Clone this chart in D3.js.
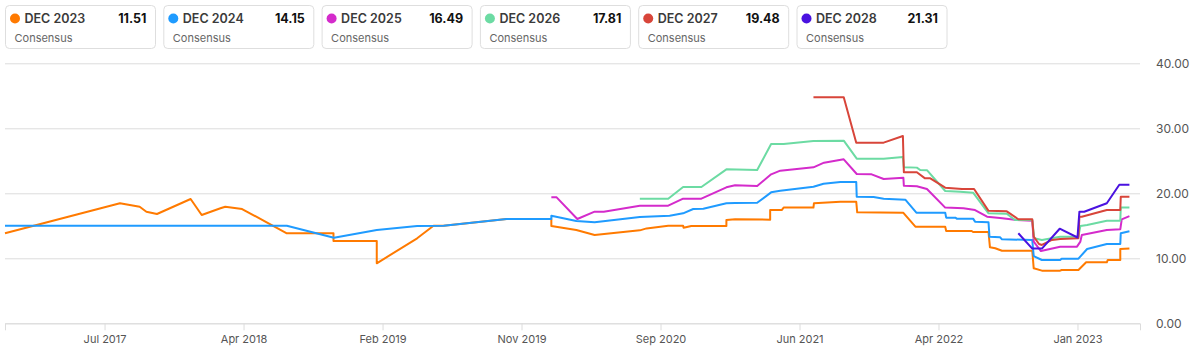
<!DOCTYPE html>
<html>
<head>
<meta charset="utf-8">
<script src="https://cdn.jsdelivr.net/npm/d3@7"></script>
<style>
  body { margin: 0; background: #fff; font-family: Inter, "Noto Sans", sans-serif; }
  svg { display: block; }
</style>
</head>
<body>
<svg id="chart" width="1191" height="349"></svg>
<script>
// Consensus estimate history per fiscal period
const seriesNames = ["DEC 2023", "DEC 2024", "DEC 2025", "DEC 2026", "DEC 2027", "DEC 2028"];
const seriesColors = ["#ff7a00", "#1f9bff", "#d42bcb", "#6cdba3", "#d8453a", "#4a12e0"];
const legendSubtitle = "Consensus";

const dec2023 = [
  ["2016-12-10", 13.85], ["2017-08-06", 18.46], ["2017-09-16", 17.94], ["2017-09-30", 17.17],
  ["2017-10-22", 16.82], ["2017-12-31", 19.12], ["2018-01-23", 16.66], ["2018-03-03", 17.69],
  ["2018-03-13", 17.94], ["2018-04-17", 17.58], ["2018-06-11", 15.38], ["2018-07-19", 13.85],
  ["2018-10-24", 13.85], ["2018-10-24", 12.66], ["2019-01-22", 12.66], ["2019-01-22", 9.23],
  ["2019-04-16", 13.08], ["2019-05-20", 15.0], ["2019-06-10", 15.0], ["2019-10-19", 16.05],
  ["2020-01-20", 16.05], ["2020-01-20", 14.97], ["2020-03-12", 14.35], ["2020-04-19", 13.58],
  ["2020-07-22", 14.3], ["2020-08-05", 14.6], ["2020-09-19", 15.0], ["2020-10-20", 15.0],
  ["2020-10-21", 14.7], ["2020-11-06", 14.97], ["2021-01-18", 14.97], ["2021-01-18", 15.89],
  ["2021-02-05", 16.0], ["2021-04-19", 15.94], ["2021-04-19", 17.43], ["2021-05-13", 17.43],
  ["2021-05-17", 17.8], ["2021-07-18", 17.8], ["2021-07-19", 18.46], ["2021-09-12", 18.7],
  ["2021-10-15", 18.7], ["2021-10-17", 17.07], ["2022-01-21", 17.0], ["2022-02-15", 14.86],
  ["2022-04-18", 14.86], ["2022-04-20", 14.2], ["2022-06-12", 14.2], ["2022-06-15", 14.05],
  ["2022-07-17", 14.05], ["2022-07-20", 11.69], ["2022-07-31", 11.54], ["2022-08-14", 11.17],
  ["2022-10-16", 11.17], ["2022-10-19", 8.46], ["2022-11-05", 8.1], ["2022-12-13", 8.1],
  ["2022-12-16", 8.2], ["2023-01-20", 8.2], ["2023-02-05", 9.38], ["2023-03-20", 9.38],
  ["2023-03-22", 9.74], ["2023-04-17", 9.74], ["2023-04-17", 11.43], ["2023-05-06", 11.51]
];

const dec2024 = [
  ["2016-12-10", 15.0], ["2018-07-19", 15.0], ["2018-10-25", 13.17], ["2019-01-22", 14.35],
  ["2019-04-16", 14.97], ["2019-06-10", 15.0], ["2019-10-19", 16.05], ["2020-01-20", 16.05],
  ["2020-01-20", 16.55], ["2020-03-12", 15.74], ["2020-04-19", 15.54], ["2020-07-22", 16.35],
  ["2020-09-22", 16.55], ["2020-10-20", 16.92], ["2020-11-10", 17.58], ["2020-12-01", 17.63],
  ["2021-01-18", 18.46], ["2021-02-05", 18.5], ["2021-03-23", 18.55], ["2021-04-21", 20.15],
  ["2021-05-10", 20.4], ["2021-07-18", 21.0], ["2021-08-08", 21.48], ["2021-09-12", 21.74],
  ["2021-10-15", 21.74], ["2021-10-16", 19.48], ["2021-11-20", 19.43], ["2021-12-11", 19.17],
  ["2022-01-25", 19.02], ["2022-02-17", 17.02], ["2022-04-18", 17.02], ["2022-04-20", 16.25],
  ["2022-05-09", 16.25], ["2022-05-12", 16.1], ["2022-06-15", 16.1], ["2022-06-19", 15.64],
  ["2022-07-17", 15.54], ["2022-07-19", 13.33], ["2022-08-10", 13.23], ["2022-08-14", 12.92],
  ["2022-10-16", 12.82], ["2022-10-19", 10.35], ["2022-11-05", 9.74], ["2022-12-13", 9.74],
  ["2022-12-16", 9.94], ["2023-01-20", 9.94], ["2023-02-07", 11.43], ["2023-03-20", 12.2],
  ["2023-04-17", 12.2], ["2023-04-18", 13.85], ["2023-05-06", 14.15]
];

const dec2025 = [
  ["2020-01-20", 19.38], ["2020-01-31", 19.38], ["2020-03-14", 16.05], ["2020-04-19", 17.17],
  ["2020-05-08", 17.17], ["2020-07-22", 18.1], ["2020-09-19", 18.1], ["2020-10-20", 19.17],
  ["2020-11-27", 19.17], ["2021-01-18", 20.92], ["2021-02-05", 21.23], ["2021-03-23", 21.12],
  ["2021-04-21", 22.92], ["2021-05-10", 23.48], ["2021-07-18", 24.0], ["2021-08-09", 24.71],
  ["2021-09-19", 25.23], ["2021-10-16", 22.97], ["2021-11-16", 22.92], ["2021-12-11", 22.2],
  ["2022-01-21", 22.4], ["2022-01-22", 21.17], ["2022-02-18", 21.08], ["2022-03-11", 20.66],
  ["2022-04-18", 17.8], ["2022-05-26", 17.7], ["2022-06-19", 17.43], ["2022-07-14", 16.4],
  ["2022-08-10", 16.2], ["2022-09-14", 15.9], ["2022-10-16", 15.79], ["2022-10-19", 12.56],
  ["2022-11-03", 11.12], ["2022-12-13", 11.79], ["2023-01-17", 11.79], ["2023-01-24", 12.56],
  ["2023-01-27", 13.58], ["2023-03-20", 14.35], ["2023-04-17", 14.46], ["2023-04-20", 16.0],
  ["2023-05-06", 16.49]
];

const dec2026 = [
  ["2020-07-22", 19.17], ["2020-09-19", 19.17], ["2020-10-20", 20.97], ["2020-11-27", 20.97],
  ["2021-01-18", 23.69], ["2021-03-23", 23.58], ["2021-04-21", 27.58], ["2021-05-17", 27.58],
  ["2021-07-18", 28.05], ["2021-09-19", 28.1], ["2021-10-16", 25.33], ["2021-12-11", 25.33],
  ["2022-01-20", 25.58], ["2022-01-22", 24.0], ["2022-02-18", 23.95], ["2022-02-25", 23.58],
  ["2022-03-11", 23.56], ["2022-04-18", 20.35], ["2022-05-19", 20.25], ["2022-06-15", 20.1],
  ["2022-07-17", 16.92], ["2022-08-24", 16.85], ["2022-09-10", 15.9], ["2022-10-16", 15.9],
  ["2022-10-20", 13.08], ["2022-11-05", 12.82], ["2022-12-13", 13.33], ["2023-01-20", 13.33],
  ["2023-01-24", 14.97], ["2023-02-07", 15.12], ["2023-03-20", 15.79], ["2023-04-17", 15.79],
  ["2023-04-18", 17.81], ["2023-05-06", 17.81]
];

const dec2027 = [
  ["2021-07-18", 34.77], ["2021-09-19", 34.77], ["2021-10-15", 27.79], ["2021-12-11", 27.79],
  ["2022-01-20", 28.82], ["2022-01-22", 23.23], ["2022-02-18", 23.23], ["2022-03-07", 22.3],
  ["2022-03-18", 22.3], ["2022-04-18", 20.87], ["2022-05-23", 20.66], ["2022-06-17", 20.66],
  ["2022-07-17", 17.3], ["2022-08-24", 17.23], ["2022-09-17", 16.0], ["2022-10-16", 16.0],
  ["2022-10-19", 13.33], ["2022-10-30", 12.2], ["2022-11-05", 12.05], ["2022-11-26", 12.82],
  ["2022-12-13", 12.97], ["2023-01-20", 13.08], ["2023-01-22", 16.4], ["2023-01-27", 16.4],
  ["2023-03-20", 17.43], ["2023-04-17", 17.43], ["2023-04-18", 19.48], ["2023-05-06", 19.48]
];

const dec2028 = [
  ["2022-09-17", 13.85], ["2022-10-16", 11.5], ["2022-11-05", 11.5], ["2022-12-12", 14.55],
  ["2023-01-18", 13.2], ["2023-01-22", 17.17], ["2023-02-01", 17.17], ["2023-03-20", 18.46],
  ["2023-04-15", 21.31], ["2023-05-06", 21.31]
];

const seriesData = [dec2023, dec2024, dec2025, dec2026, dec2027, dec2028];

// Axis ticks
const xTickDates = ["2017-07-05", "2018-04-20", "2019-02-03", "2019-11-19",
                    "2020-09-03", "2021-06-19", "2022-04-04", "2023-01-18"];
const yTickValues = [0, 10, 20, 30, 40];
const xDomain = ["2016-12-10", "2023-05-28"];

const parse = d3.utcParse("%Y-%m-%d");
const svg = d3.select("#chart");

const plot = { left: 5, right: 1140, top: 63.3, bottom: 323.3 };

const x = d3.scaleUtc().domain(xDomain.map(parse)).range([plot.left, plot.right]);
const y = d3.scaleLinear().domain([0, 40]).range([plot.bottom, plot.top]);

// Horizontal gridlines + right-side value labels
const yAxis = d3.axisRight(y)
  .tickValues(yTickValues)
  .tickSize(-(plot.right - plot.left))
  .tickPadding(16)
  .tickFormat(d3.format(".2f"));

const yg = svg.append("g")
  .attr("transform", `translate(${plot.right},0)`)
  .call(yAxis);
yg.select(".domain").remove();
yg.selectAll(".tick line").attr("stroke", "#dcdcdc").attr("stroke-width", 1);
yg.selectAll(".tick text")
  .attr("fill", "#555")
  .attr("font-size", 12)
  .attr("font-family", "Inter, 'Noto Sans', sans-serif");

// Bottom time axis
const xAxis = d3.axisBottom(x)
  .tickValues(xTickDates.map(parse))
  .tickSize(7)
  .tickPadding(5)
  .tickFormat(d3.utcFormat("%b %Y"));

const xg = svg.append("g")
  .attr("transform", `translate(0,${plot.bottom})`)
  .call(xAxis);
xg.select(".domain").attr("stroke", "#dcdcdc");
xg.selectAll(".tick line").attr("stroke", "#dcdcdc");
xg.selectAll(".tick text")
  .attr("fill", "#555")
  .attr("font-size", 11)
  .attr("font-family", "Inter, 'Noto Sans', sans-serif");

// Estimate lines
const line = d3.line()
  .x(d => x(parse(d[0])))
  .y(d => y(d[1]));

svg.append("g")
  .selectAll("path")
  .data(seriesData)
  .join("path")
  .attr("d", line)
  .attr("fill", "none")
  .attr("stroke", (d, i) => seriesColors[i])
  .attr("stroke-width", 2)
  .attr("stroke-linejoin", "round");

// Legend cards
const cardW = 150, cardH = 43, cardStep = 158.3, cardX0 = 5.5, cardY = 5.5;
const legend = svg.append("g")
  .selectAll("g")
  .data(seriesNames)
  .join("g")
  .attr("transform", (d, i) => `translate(${cardX0 + i * cardStep},${cardY})`);

legend.append("rect")
  .attr("width", cardW).attr("height", cardH)
  .attr("rx", 4).attr("ry", 4)
  .attr("fill", "#fff")
  .attr("stroke", "#dedede");

legend.append("circle")
  .attr("cx", 9.5).attr("cy", 13)
  .attr("r", 5)
  .attr("fill", (d, i) => seriesColors[i]);

legend.append("text")
  .attr("x", 19).attr("y", 17.5)
  .attr("font-size", 12.5)
  .attr("font-weight", 600)
  .attr("fill", "#3a3a3a")
  .text(d => d);

legend.append("text")
  .attr("x", cardW - 9).attr("y", 17.5)
  .attr("text-anchor", "end")
  .attr("font-size", 12.5)
  .attr("font-weight", 700)
  .attr("fill", "#111")
  .text((d, i) => d3.format(".2f")(seriesData[i][seriesData[i].length - 1][1]));

legend.append("text")
  .attr("x", 9).attr("y", 36)
  .attr("font-size", 11)
  .attr("fill", "#666")
  .text(legendSubtitle);
</script>
</body>
</html>
